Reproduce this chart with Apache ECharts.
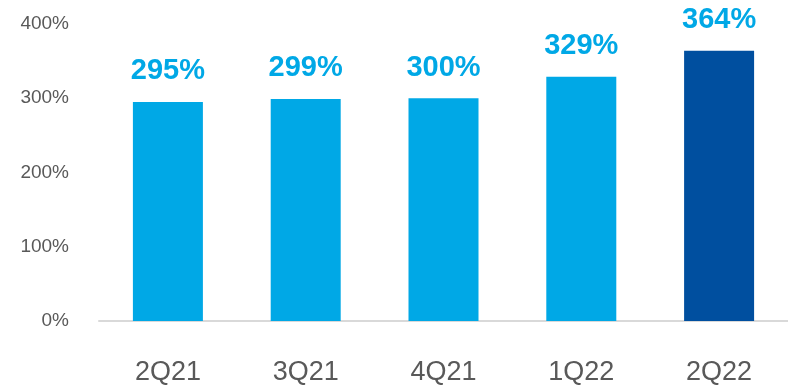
<!DOCTYPE html>
<html>
<head>
<meta charset="utf-8">
<script src="https://cdn.jsdelivr.net/npm/echarts@6/dist/echarts.min.js"></script>
<style>
  html, body { margin: 0; padding: 0; background: #fff; }
  #main { width: 788px; height: 386px; }
</style>
</head>
<body>
<div id="main"></div>
<script>
const categories = ['2Q21', '3Q21', '4Q21', '1Q22', '2Q22'];
const values = [295, 299, 300, 329, 364];
const barColors = ['#00A8E6', '#00A8E6', '#00A8E6', '#00A8E6', '#004F9F'];

const chart = echarts.init(document.getElementById('main'));
chart.setOption({
  animation: false,
  grid: { left: 99, top: 24, width: 694, bottom: 64 },
  xAxis: {
    type: 'category',
    data: categories,
    axisLine: { lineStyle: { color: '#D9D9D9', width: 2 } },
    axisTick: { show: false },
    axisLabel: {
      color: '#595959', fontSize: 27, margin: 38,
      fontFamily: 'Liberation Sans, Arial, sans-serif'
    }
  },
  yAxis: {
    type: 'value',
    min: 0, max: 400, interval: 100,
    splitLine: { show: false },
    axisLabel: {
      formatter: '{value}%', color: '#595959', fontSize: 19, margin: 30,
      fontFamily: 'Liberation Sans, Arial, sans-serif'
    }
  },
  series: [{
    type: 'bar',
    barWidth: 70,
    data: values.map((v, i) => ({ value: v, itemStyle: { color: barColors[i] } })),
    label: {
      show: true, position: 'top', distance: 16,
      formatter: '{c}%',
      color: '#00A8E6', fontSize: 29, fontWeight: 'bold',
      fontFamily: 'Liberation Sans, Arial, sans-serif'
    }
  }]
});
</script>
</body>
</html>
